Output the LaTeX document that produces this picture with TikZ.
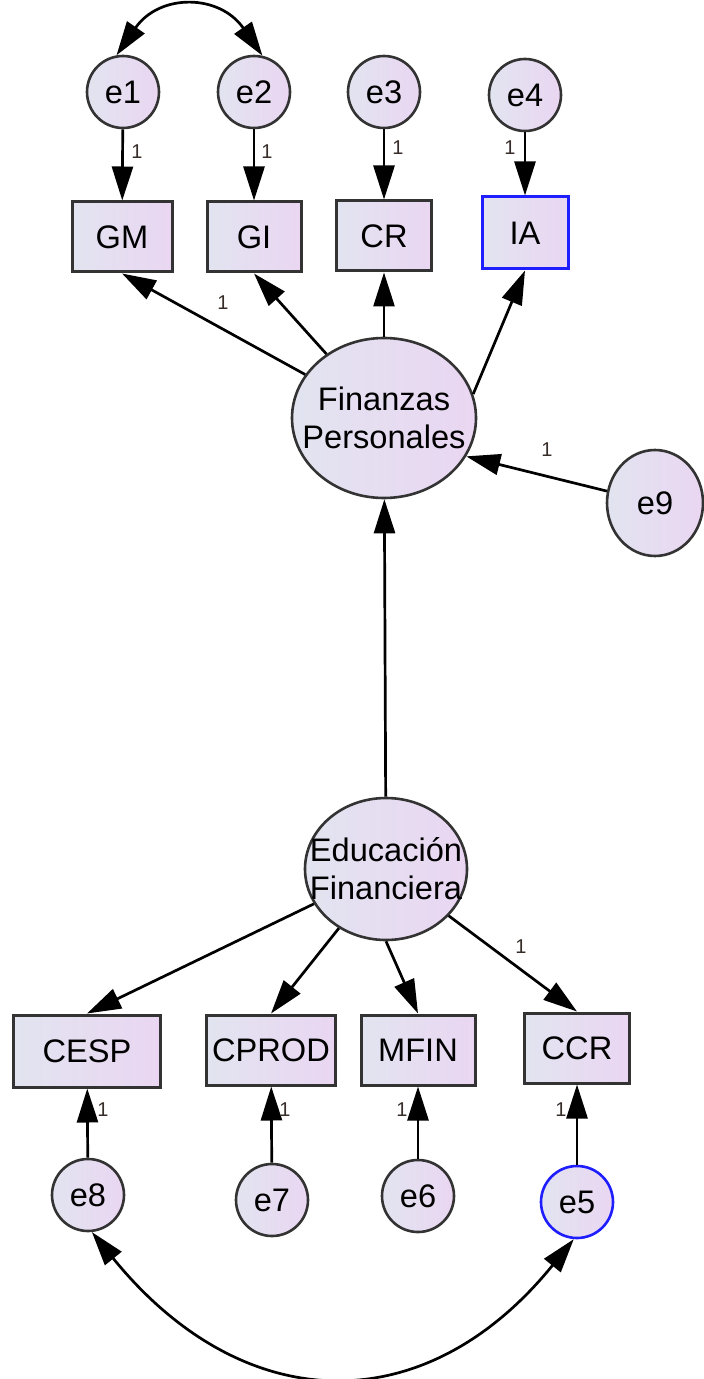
\documentclass[tikz,border=0pt]{standalone}
\usepackage{fontspec}
\setmainfont{Liberation Sans}
\usetikzlibrary{arrows.meta,shapes.geometric}

\definecolor{fillA}{RGB}{226,228,240}
\definecolor{fillB}{RGB}{234,214,242}
\definecolor{amosblue}{RGB}{30,30,255}
\definecolor{wtcol}{RGB}{55,45,40}

\begin{document}
\begin{tikzpicture}[x=0.5pt,y=-0.5pt,
	every node/.style={font=\fontsize{16.3}{19}\selectfont},
	obs/.style={draw=black!80,line width=1.5pt,left color=fillA,right color=fillB,minimum height=35pt,inner sep=0pt},
	err/.style={ellipse,draw=black!80,line width=1.3pt,left color=fillA,right color=fillB,minimum width=36pt,minimum height=36pt,inner sep=0pt},
	lat/.style={ellipse,draw=black!80,line width=1.3pt,left color=fillA,right color=fillB,inner sep=0pt},
	reg/.style={line width=1.35pt,-{Triangle[length=17pt,width=10.5pt]}},
	cov/.style={line width=1.35pt,{Triangle[length=17pt,width=10.5pt]}-{Triangle[length=17pt,width=10.5pt]}},
	wt/.style={font=\fontsize{10}{12}\selectfont,text=wtcol,inner sep=0pt}]
	\useasboundingbox (0,0) rectangle (704,1379);
	% latent variables
	\node[lat,minimum width=92pt,minimum height=80pt,label={[align=center]center:Finanzas\\Personales}] (fp) at (384,418) {};
	\node[lat,minimum width=81pt,minimum height=71pt,label={[align=center]center:Educación\\Financiera}] (ef) at (386,869) {};
	% indicators
	\node[obs,minimum width=50pt] (gm) at (122,237) {GM};
	\node[obs,minimum width=47pt] (gi) at (254,237) {GI};
	\node[obs,minimum width=47.5pt] (cr) at (384,236) {CR};
	\node[obs,minimum width=43pt,minimum height=36pt,draw=amosblue] (ia) at (525,233) {IA};
	\node[obs,minimum width=73.5pt,minimum height=36pt] (cesp) at (87,1051) {CESP};
	\node[obs,minimum width=64.5pt] (cprod) at (271,1050) {CPROD};
	\node[obs,minimum width=57pt] (mfin) at (418,1050) {MFIN};
	\node[obs,minimum width=52.5pt] (ccr) at (577,1048) {CCR};
	% errors
	\node[err] (e1) at (123,92) {e1};
	\node[err] (e2) at (254,92) {e2};
	\node[err] (e3) at (384,92) {e3};
	\node[err] (e4) at (525,95) {e4};
	\node[err,minimum width=48pt,minimum height=53pt] (e9) at (655,503) {e9};
	\node[err] (e8) at (88,1195) {e8};
	\node[err] (e7) at (272,1200) {e7};
	\node[err] (e6) at (418,1196) {e6};
	\node[err,draw=amosblue] (e5) at (577,1202) {e5};
	% paths
	\draw[reg] (e1) -- (gm);
	\draw[reg] (e2) -- (gi);
	\draw[reg] (e3) -- (cr);
	\draw[reg] (e4) -- (ia);
	\draw[reg] (fp) -- (gm.south);
	\draw[reg] (fp) -- (gi.south);
	\draw[reg] (fp) -- (cr);
	\draw[reg] (fp.15) -- (ia.south);
	\draw[reg] (e9) -- (fp.-25);
	\draw[reg] (ef) -- (fp);
	\draw[reg] (ef) -- (cesp.north);
	\draw[reg] (ef) -- (cprod.north);
	\draw[reg] (ef.south) -- (mfin.north);
	\draw[reg] (ef) -- (ccr.north);
	\draw[reg] (e8) -- (cesp);
	\draw[reg] (e7) -- (cprod);
	\draw[reg] (e6) -- (mfin);
	\draw[reg] (e5) -- (ccr);
	% covariances
	\draw[cov] (e1.100) .. controls +(43,-62) and +(-43,-62) .. (e2.77);
	\draw[cov] (e8.-84) .. controls +(150,185) and +(-150,185) .. (e5.-95);
	% weights
	\node[wt] (w1) at (137,152) {1};
	\node[wt] (w2) at (267,152) {1};
	\node[wt] (w3) at (398,148) {1};
	\node[wt] (w4) at (510,148) {1};
	\node[wt] (w5) at (223,303) {1};
	\node[wt] (w6) at (547,450) {1};
	\node[wt] (w7) at (521,947) {1};
	\node[wt] (w8) at (103,1110) {1};
	\node[wt] (w9) at (285,1110) {1};
	\node[wt] (w10) at (402,1110) {1};
	\node[wt] (w11) at (561,1110) {1};
\end{tikzpicture}
\end{document}
